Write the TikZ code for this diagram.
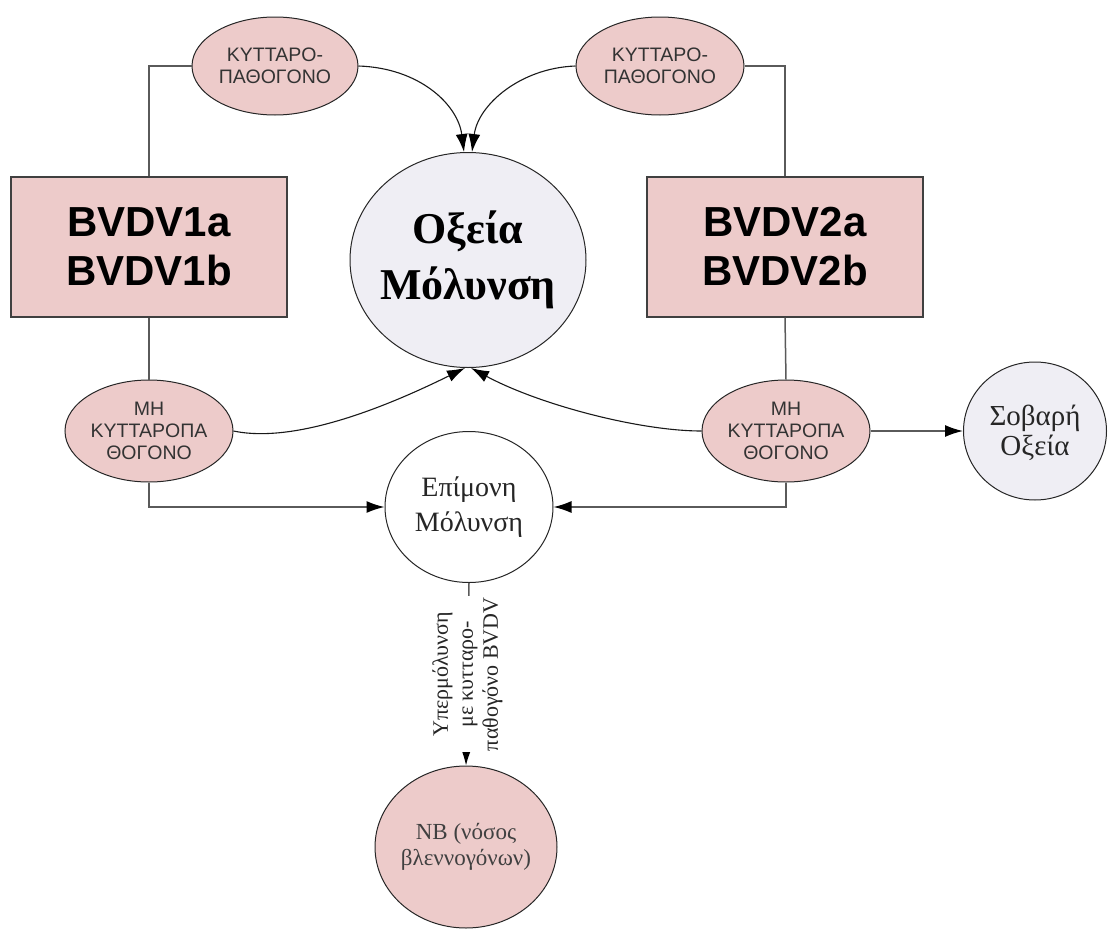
\documentclass[tikz,border=0pt]{standalone}
\usepackage{fontspec}
\setmainfont{Liberation Serif}
\newfontfamily\arialf{Liberation Sans}
\usetikzlibrary{arrows.meta,shapes.geometric}
\definecolor{pinkf}{HTML}{EDCBCA}
\definecolor{lavf}{HTML}{EFEEF4}
\definecolor{linegray}{HTML}{5A5A5A}
\begin{document}
\begin{tikzpicture}[x=1pt,y=-1pt,
  box/.style={draw=black!75, line width=1.2pt, fill=pinkf, minimum width=276pt, minimum height=140pt, inner sep=0pt, align=center, font=\arialf\bfseries\fontsize{42}{49}\selectfont},
  smallell/.style={ellipse, draw=black!85, line width=1pt, fill=pinkf, inner sep=0pt, align=center, font=\arialf\fontsize{19.5}{22}\selectfont, text=black!80},
  bigcirc/.style={ellipse, draw=black!85, line width=1pt, inner sep=0pt},
  label/.style={align=center, inner sep=0pt},
  gline/.style={draw=linegray, line width=1.5pt},
  cline/.style={draw=black!90, line width=1.1pt},
  arr/.style={-{Latex[length=18pt,width=12pt,color=black]}}
]
\useasboundingbox (0,0) rectangle (1112,929);

\node[box] (b1) at (149,247) {BVDV1a\\BVDV1b};
\node[box] (b2) at (785,247) {BVDV2a\\BVDV2b};

\node[smallell, minimum width=166pt, minimum height=98pt] (tl) at (275,66) {ΚΥΤΤΑΡΟ-\\ΠΑΘΟΓΟΝΟ};
\node[smallell, minimum width=168pt, minimum height=98pt] (tr) at (660,66) {ΚΥΤΤΑΡΟ-\\ΠΑΘΟΓΟΝΟ};
\node[smallell, minimum width=168pt, minimum height=102pt] (bl) at (149,431) {ΜΗ\\ΚΥΤΤΑΡΟΠΑ\\ΘΟΓΟΝΟ};
\node[smallell, minimum width=168pt, minimum height=102pt] (br) at (786,431) {ΜΗ\\ΚΥΤΤΑΡΟΠΑ\\ΘΟΓΟΝΟ};

\node[bigcirc, fill=lavf, minimum width=236pt, minimum height=215pt] (ox) at (468,260) {};
\node[label, font=\bfseries\fontsize{44}{56}\selectfont] (oxt) at (ox.center) {Οξεία\\Μόλυνση};
\node[bigcirc, fill=white, minimum width=168pt, minimum height=151pt] (ep) at (469,507) {};
\node[label, font=\fontsize{28}{35}\selectfont, text=black!85] (ept) at (ep.center) {Επίμονη\\Μόλυνση};
\node[bigcirc, fill=lavf, minimum width=143pt, minimum height=138pt] (so) at (1035,431) {};
\node[label, font=\fontsize{29}{30}\selectfont, text=black!85] (sot) at ([yshift=-2pt]so.center) {Σοβαρή\\Οξεία};
\node[bigcirc, fill=pinkf, minimum width=182pt, minimum height=162pt] (nb) at (466,847) {};
\node[label, font=\fontsize{23}{26}\selectfont, text=black!75] (nbt) at (nb.center) {NB (νόσος\\βλεννογόνων)};

% tree lines
\draw[gline] (tl.west) -| (b1.north);
\draw[gline] (tr.east) -| (b2.north);
\draw[gline] (b1.south) -- (bl.north);
\draw[gline] (b2.south) -- (br.north);
\draw[gline, arr] (bl.south) |- (ep.west);
\draw[gline, arr] (br.south) |- (ep.east);
\draw[gline, arr] (br.east) -- (so.west);

% curves
\coordinate (oxtl) at ([xshift=-4pt]ox.north);
\coordinate (oxtr) at ([xshift=4pt]ox.north);
\coordinate (oxbl) at ([xshift=-3pt]ox.south);
\coordinate (oxbr) at ([xshift=3pt]ox.south);
\draw[cline, arr] (tl.east) .. controls (420,68) and (458,105) .. (oxtl);
\draw[cline, arr] (tr.west) .. controls (520,68) and (478,105) .. (oxtr);
\draw[cline, arr] (bl.east) .. controls (300,445) and (400,400) .. (oxbl);
\draw[cline, arr] (br.west) .. controls (640,431) and (540,405) .. (oxbr);

% bottom
\draw[gline, arr] (ep.south) -- (nb.north)
  node[midway, fill=white, rotate=90, align=center, inner sep=1pt, font=\fontsize{22}{25}\selectfont, text=black!85] (lab) {Υπερμόλυνση\\με κυτταρο-\\παθογόνο BVDV};
\end{tikzpicture}
\end{document}
